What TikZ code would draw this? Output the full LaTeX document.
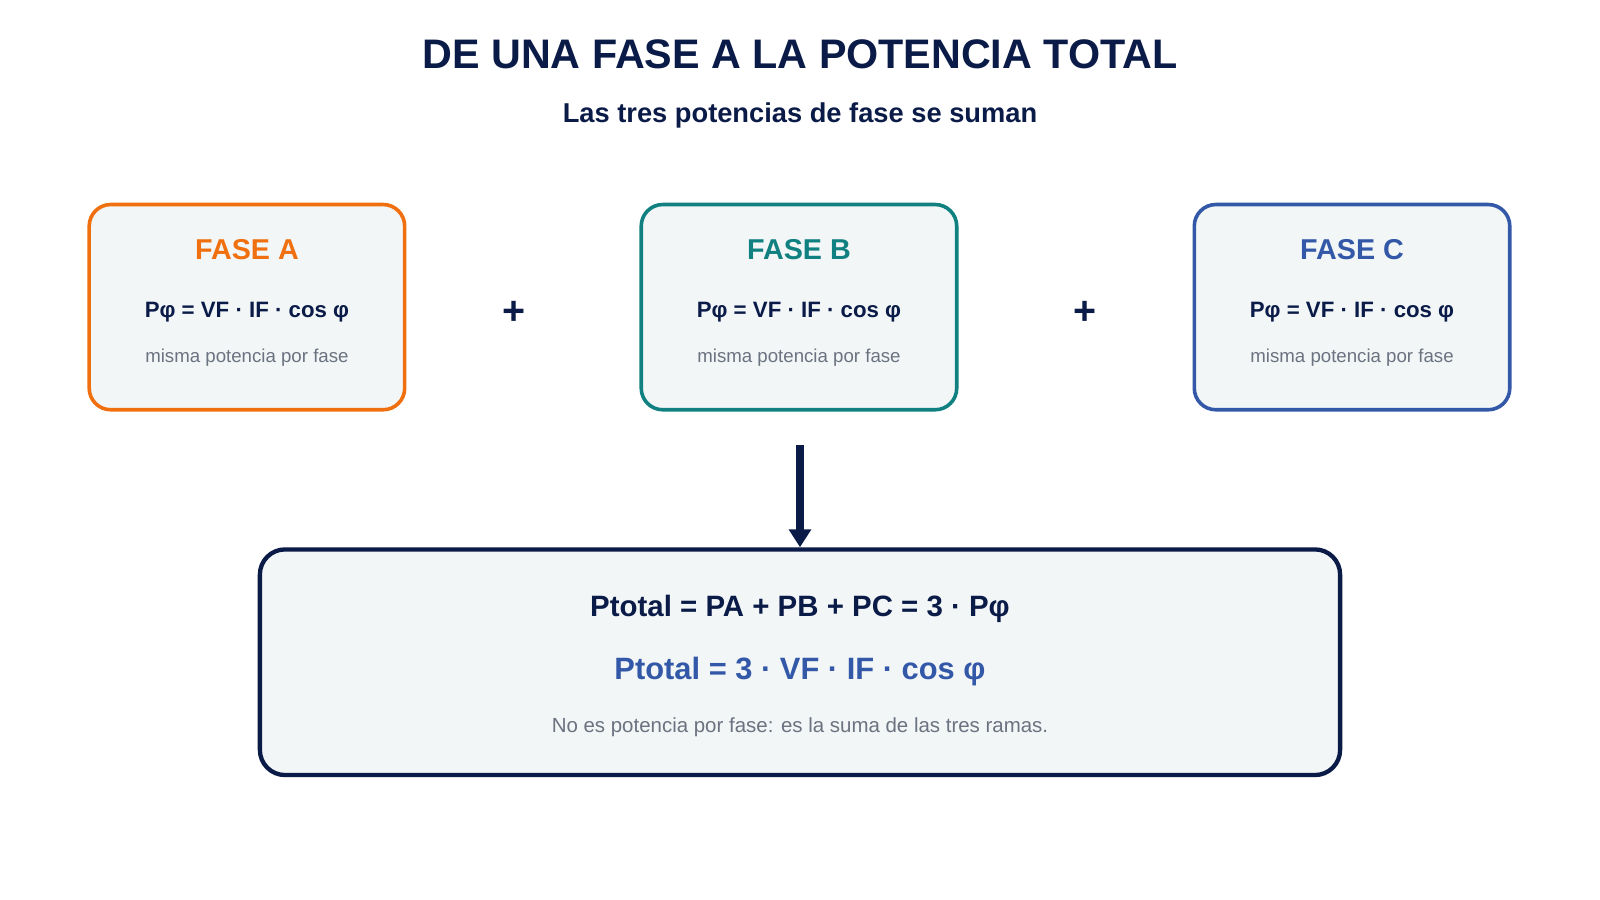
\documentclass[tikz,border=0pt]{standalone}
\usepackage{fontspec}
\setmainfont{Liberation Sans}
\usetikzlibrary{positioning,arrows.meta}
\definecolor{navy}{RGB}{11,27,72}
\definecolor{phaseA}{RGB}{240,112,16}
\definecolor{phaseB}{RGB}{16,128,128}
\definecolor{phaseC}{RGB}{51,88,168}
\definecolor{boxFill}{RGB}{242,246,247}
\definecolor{noteGrey}{RGB}{107,114,128}
\tikzset{
    phase/.style={draw=#1, line width=1pt, fill=boxFill, rounded corners=6pt,
        minimum width=3.09cm, minimum height=2.01cm},
    head/.style={font=\fontsize{8}{10}\selectfont\bfseries, text=#1},
    formula/.style={font=\fontsize{6.2}{8}\selectfont\bfseries, text=navy},
    note/.style={font=\fontsize{5.2}{7}\selectfont, text=noteGrey},
    plus/.style={font=\fontsize{11}{12}\selectfont\bfseries, text=navy}
}
\begin{document}
\begin{tikzpicture}[x=0.01cm, y=-0.01cm]
    \useasboundingbox (0,0) rectangle (1568,882);
    \node[font=\fontsize{11.5}{13}\selectfont\bfseries, text=navy] (title) at (784,53) {DE UNA FASE A LA POTENCIA TOTAL};
    \node[font=\fontsize{7.6}{9}\selectfont\bfseries, text=navy] (subtitle) at (784,113) {Las tres potencias de fase se suman};
    % three phase boxes
    \foreach \name/\x/\col in {A/242/phaseA, B/783/phaseB, C/1325/phaseC}{
        \node[phase=\col] (box\name) at (\x,301) {};
        \node[head=\col] (head\name) at (\x,245) {FASE \name};
        \node[formula] (form\name) at (\x,306) {Pφ = VF · IF · cos φ};
        \node[note] (note\name) at (\x,351) {misma potencia por fase};
    }
    \node[plus] (plusAB) at (504,307) {+};
    \node[plus] (plusBC) at (1063,307) {+};
    % total box
    \node[draw=navy, line width=1.2pt, fill=boxFill, rounded corners=7pt,
        minimum width=10.58cm, minimum height=2.21cm] (total) at (784,649) {};
    \node[font=\fontsize{8.2}{10}\selectfont\bfseries, text=navy] (sumLine) at (784,597) {Ptotal = PA + PB + PC = 3 · Pφ};
    \node[font=\fontsize{8.6}{10}\selectfont\bfseries, text=phaseC] (totalLine) at (784,658) {Ptotal = 3 · VF · IF · cos φ};
    \node[font=\fontsize{5.7}{7}\selectfont, text=noteGrey] (totalNote) at (784,713) {No es potencia por fase: es la suma de las tres ramas.};
    \coordinate (arrowTop) at (784,436);
    \draw[-{Triangle[width=6pt,length=5pt]}, line width=2.2pt, navy] (arrowTop) -- (total.north);
\end{tikzpicture}
\end{document}
